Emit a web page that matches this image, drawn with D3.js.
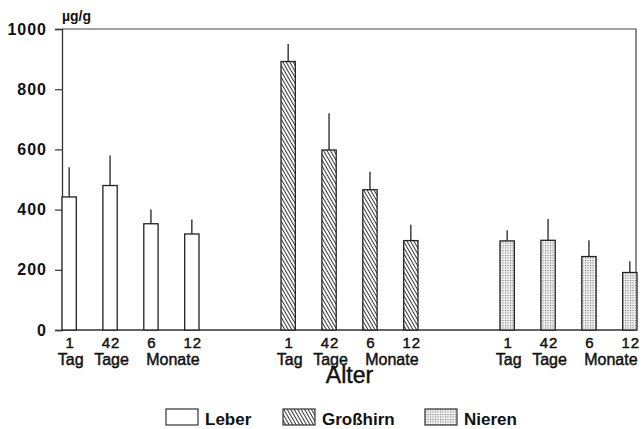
<!DOCTYPE html>
<meta charset="utf-8">
<style>
body { margin: 0; background: #fff; }
text { font-family: "Liberation Sans", Arial, sans-serif; fill: #111; }
.tick text { font-size: 16px; letter-spacing: 1px; font-weight: bold; }
.num, .unit, .xtitle { stroke: #111; stroke-width: 0.45px; }
</style>
<body>
<svg width="643" height="429"></svg>
<script src="https://cdn.jsdelivr.net/npm/d3@7"></script>
<script>

var organs = ["Leber", "Großhirn", "Nieren"];
var ages = ["1 Tag", "42 Tage", "6 Monate", "12 Monate"];
var ageNum = ["1", "42", "6", "12"];
var ageUnit = ["Tag", "Tage", "Monate"];

// Mittelwerte und obere Enden der Fehlerbalken (µg/g)
var leber = [442, 480, 353, 319];
var leberTop = [541, 580, 400, 367];
var grosshirn = [892, 598, 466, 297];
var grosshirnTop = [950, 720, 526, 350];
var nieren = [296, 298, 244, 191];
var nierenTop = [331, 369, 298, 228];

var yTicks = [0, 200, 400, 600, 800, 1000];

var svg = d3.select("svg");

var plotLeft = 62, plotRight = 636, plotTop = 29, plotBottom = 330;

var y = d3.scaleLinear().domain([0, 1000]).range([plotBottom, plotTop]);
var x0 = d3.scalePoint().domain(organs).range([plotLeft, 500]);
var x1 = d3.scaleBand().domain(ages).range([0, 137]).paddingInner(0.65);

var defs = svg.append("defs");
var hatch = defs.append("pattern")
    .attr("id", "hatch")
    .attr("width", 3).attr("height", 3)
    .attr("patternUnits", "userSpaceOnUse")
    .attr("patternTransform", "rotate(-30)");
hatch.append("rect").attr("width", 3).attr("height", 3).attr("fill", "#fff");
hatch.append("line")
    .attr("x1", 0).attr("y1", 0).attr("x2", 0).attr("y2", 3)
    .attr("stroke", "#222").attr("stroke-width", 1.8);

var dots = defs.append("pattern")
    .attr("id", "dots")
    .attr("width", 2.5).attr("height", 2.5)
    .attr("patternUnits", "userSpaceOnUse");
dots.append("rect").attr("width", 2.5).attr("height", 2.5).attr("fill", "#f0f0f0");
dots.append("rect").attr("width", 1).attr("height", 1).attr("fill", "#666");

var fills = { "Leber": "#fff", "Großhirn": "url(#hatch)", "Nieren": "url(#dots)" };

var series = [
  { organ: "Leber", values: leber, tops: leberTop },
  { organ: "Großhirn", values: grosshirn, tops: grosshirnTop },
  { organ: "Nieren", values: nieren, tops: nierenTop }
];

// Rahmen
svg.append("path")
    .attr("d", "M" + plotLeft + "," + plotTop + "H" + plotRight + "V" + plotBottom)
    .attr("fill", "none").attr("stroke", "#444").attr("stroke-width", 1.2);

var yAxis = svg.append("g")
    .attr("transform", "translate(" + plotLeft + ",0)")
    .call(d3.axisLeft(y).tickValues(yTicks).tickSize(7).tickPadding(8).tickFormat(d3.format("d")));
yAxis.select(".domain").attr("stroke", "#333").attr("stroke-width", 1.3);
yAxis.selectAll(".tick line").attr("stroke", "#333").attr("stroke-width", 1.2);
yAxis.selectAll(".tick text").attr("fill", "#111").style("font-family", "Liberation Sans, Arial, sans-serif");

svg.append("line")
    .attr("x1", plotLeft).attr("x2", plotRight).attr("y1", y(0)).attr("y2", y(0))
    .attr("stroke", "#333").attr("stroke-width", 1.3);

svg.append("text")
    .attr("x", plotLeft).attr("y", 21)
    .style("font-size", "14px").style("font-weight", "bold")
    .text("µg/g");

var groups = svg.selectAll(".group")
    .data(series)
    .enter().append("g")
    .attr("class", "group")
    .attr("transform", function(d) { return "translate(" + x0(d.organ) + ",0)"; });

groups.selectAll(".err")
    .data(function(d) { return d.values.map(function(v, i) { return { age: ages[i], v: v, top: d.tops[i] }; }); })
    .enter().append("line")
    .attr("class", "err")
    .attr("x1", function(d) { return x1(d.age) + x1.bandwidth() / 2; })
    .attr("x2", function(d) { return x1(d.age) + x1.bandwidth() / 2; })
    .attr("y1", function(d) { return y(d.v); })
    .attr("y2", function(d) { return y(d.top); })
    .attr("stroke", "#222").attr("stroke-width", 1.3);

groups.selectAll(".bar")
    .data(function(d) { return d.values.map(function(v, i) { return { organ: d.organ, age: ages[i], v: v }; }); })
    .enter().append("rect")
    .attr("class", "bar")
    .attr("x", function(d) { return x1(d.age); })
    .attr("width", x1.bandwidth())
    .attr("y", function(d) { return y(d.v); })
    .attr("height", function(d) { return y(0) - y(d.v); })
    .attr("fill", function(d) { return fills[d.organ]; })
    .attr("stroke", "#222").attr("stroke-width", 1.3);

// x-Beschriftung
groups.selectAll(".num")
    .data(ageNum.map(function(n, i) { return { n: n, age: ages[i] }; }))
    .enter().append("text")
    .attr("class", "num")
    .attr("x", function(d) { return x1(d.age) + x1.bandwidth() / 2 + 1; })
    .attr("y", 348)
    .attr("text-anchor", "middle")
    .style("font-size", "15px").style("letter-spacing", "1px")
    .text(function(d) { return d.n; });

groups.selectAll(".unit")
    .data([
      { t: ageUnit[0], a: [ages[0]] },
      { t: ageUnit[1], a: [ages[1]] },
      { t: ageUnit[2], a: [ages[2], ages[3]] }
    ])
    .enter().append("text")
    .attr("class", "unit")
    .attr("x", function(d) {
      var xs = d.a.map(function(a) { return x1(a) + x1.bandwidth() / 2; });
      return d3.mean(xs) + 1.5;
    })
    .attr("y", 365)
    .attr("text-anchor", "middle")
    .style("font-size", "16px")
    .text(function(d) { return d.t; });

svg.append("text")
    .attr("class", "xtitle")
    .attr("x", x0("Großhirn") + 137 / 2)
    .attr("y", 383)
    .attr("text-anchor", "middle")
    .style("font-size", "23px")
    .text("Alter");

// Legende
var legendX = [166, 283, 425];
var legend = svg.selectAll(".legend")
    .data(organs)
    .enter().append("g")
    .attr("class", "legend")
    .attr("transform", function(d, i) { return "translate(" + legendX[i] + ",409)"; });

legend.append("rect")
    .attr("width", 32).attr("height", 16)
    .attr("fill", function(d) { return fills[d]; })
    .attr("stroke", "#333").attr("stroke-width", 1.2);

legend.append("text")
    .attr("x", 39).attr("y", 16)
    .style("font-size", "17px").style("font-weight", "bold")
    .text(function(d) { return d; });

</script>
</body>
